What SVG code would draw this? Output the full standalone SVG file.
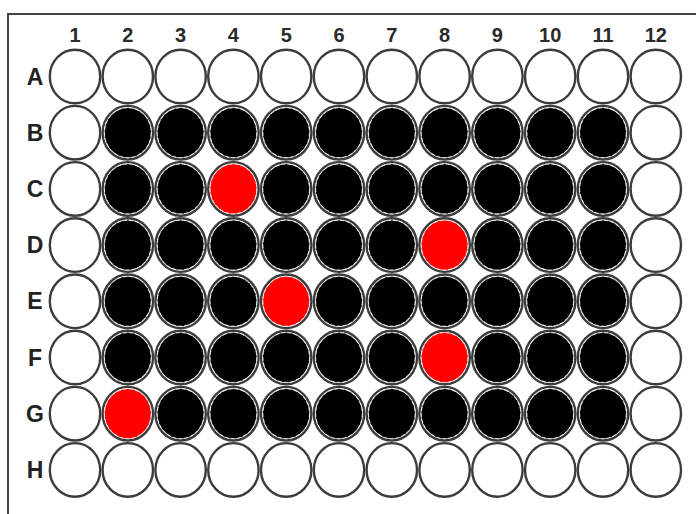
<svg xmlns="http://www.w3.org/2000/svg" xmlns:xlink="http://www.w3.org/1999/xlink" width="696" height="514" viewBox="0 0 696 514">
<style>
.frame{fill:none;stroke:#444;stroke-width:2}
.col{font-family:"Liberation Sans",Arial,sans-serif;font-size:20px;font-weight:bold;fill:#2a2a2a;text-anchor:middle}
.row{font-family:"Liberation Sans",Arial,sans-serif;font-size:23px;font-weight:bold;fill:#222;text-anchor:middle}
.ring{fill:#fff;stroke:#3c3c3c;stroke-width:2.4}
.blk{fill:#000;stroke:#fff;stroke-width:0.8;stroke-dasharray:4 2}
.red{fill:#ff0000;stroke:#fff;stroke-width:0.8;stroke-dasharray:4 2}
</style>
<defs>
<g id="e"><ellipse class="ring" cx="0" cy="0" rx="25.2" ry="26.8"/></g>
<g id="b"><ellipse class="ring" cx="0" cy="0" rx="25.2" ry="26.8"/><ellipse class="blk" cx="0" cy="0" rx="23.3" ry="24.9"/></g>
<g id="r"><ellipse class="ring" cx="0" cy="0" rx="25.2" ry="26.8"/><ellipse class="red" cx="0" cy="0" rx="23.3" ry="24.9"/></g>
</defs>
<rect width="696" height="514" fill="#fff"/>
<path class="frame" d="M8,514 V14 H696"/>
<g id="column-labels">
<text class="col" x="75" y="42">1</text>
<text class="col" x="127.8" y="42">2</text>
<text class="col" x="180.6" y="42">3</text>
<text class="col" x="233.4" y="42">4</text>
<text class="col" x="286.2" y="42">5</text>
<text class="col" x="339" y="42">6</text>
<text class="col" x="391.8" y="42">7</text>
<text class="col" x="444.6" y="42">8</text>
<text class="col" x="497.4" y="42">9</text>
<text class="col" x="550.2" y="42">10</text>
<text class="col" x="603" y="42">11</text>
<text class="col" x="655.8" y="42">12</text>
</g>
<g id="row-labels">
<text class="row" x="35" y="84.5">A</text>
<text class="row" x="35" y="140.7">B</text>
<text class="row" x="35" y="196.9">C</text>
<text class="row" x="35" y="253.1">D</text>
<text class="row" x="35" y="309.3">E</text>
<text class="row" x="35" y="365.5">F</text>
<text class="row" x="35" y="421.7">G</text>
<text class="row" x="35" y="477.9">H</text>
</g>
<g id="wells">
<g id="A1"><use href="#e" x="75" y="76.5"/></g>
<g id="A2"><use href="#e" x="127.8" y="76.5"/></g>
<g id="A3"><use href="#e" x="180.6" y="76.5"/></g>
<g id="A4"><use href="#e" x="233.4" y="76.5"/></g>
<g id="A5"><use href="#e" x="286.2" y="76.5"/></g>
<g id="A6"><use href="#e" x="339" y="76.5"/></g>
<g id="A7"><use href="#e" x="391.8" y="76.5"/></g>
<g id="A8"><use href="#e" x="444.6" y="76.5"/></g>
<g id="A9"><use href="#e" x="497.4" y="76.5"/></g>
<g id="A10"><use href="#e" x="550.2" y="76.5"/></g>
<g id="A11"><use href="#e" x="603" y="76.5"/></g>
<g id="A12"><use href="#e" x="655.8" y="76.5"/></g>

<g id="B1"><use href="#e" x="75" y="132.7"/></g>
<g id="B2"><use href="#b" x="127.8" y="132.7"/></g>
<g id="B3"><use href="#b" x="180.6" y="132.7"/></g>
<g id="B4"><use href="#b" x="233.4" y="132.7"/></g>
<g id="B5"><use href="#b" x="286.2" y="132.7"/></g>
<g id="B6"><use href="#b" x="339" y="132.7"/></g>
<g id="B7"><use href="#b" x="391.8" y="132.7"/></g>
<g id="B8"><use href="#b" x="444.6" y="132.7"/></g>
<g id="B9"><use href="#b" x="497.4" y="132.7"/></g>
<g id="B10"><use href="#b" x="550.2" y="132.7"/></g>
<g id="B11"><use href="#b" x="603" y="132.7"/></g>
<g id="B12"><use href="#e" x="655.8" y="132.7"/></g>

<g id="C1"><use href="#e" x="75" y="188.9"/></g>
<g id="C2"><use href="#b" x="127.8" y="188.9"/></g>
<g id="C3"><use href="#b" x="180.6" y="188.9"/></g>
<g id="C4"><use href="#r" x="233.4" y="188.9"/></g>
<g id="C5"><use href="#b" x="286.2" y="188.9"/></g>
<g id="C6"><use href="#b" x="339" y="188.9"/></g>
<g id="C7"><use href="#b" x="391.8" y="188.9"/></g>
<g id="C8"><use href="#b" x="444.6" y="188.9"/></g>
<g id="C9"><use href="#b" x="497.4" y="188.9"/></g>
<g id="C10"><use href="#b" x="550.2" y="188.9"/></g>
<g id="C11"><use href="#b" x="603" y="188.9"/></g>
<g id="C12"><use href="#e" x="655.8" y="188.9"/></g>

<g id="D1"><use href="#e" x="75" y="245.1"/></g>
<g id="D2"><use href="#b" x="127.8" y="245.1"/></g>
<g id="D3"><use href="#b" x="180.6" y="245.1"/></g>
<g id="D4"><use href="#b" x="233.4" y="245.1"/></g>
<g id="D5"><use href="#b" x="286.2" y="245.1"/></g>
<g id="D6"><use href="#b" x="339" y="245.1"/></g>
<g id="D7"><use href="#b" x="391.8" y="245.1"/></g>
<g id="D8"><use href="#r" x="444.6" y="245.1"/></g>
<g id="D9"><use href="#b" x="497.4" y="245.1"/></g>
<g id="D10"><use href="#b" x="550.2" y="245.1"/></g>
<g id="D11"><use href="#b" x="603" y="245.1"/></g>
<g id="D12"><use href="#e" x="655.8" y="245.1"/></g>

<g id="E1"><use href="#e" x="75" y="301.3"/></g>
<g id="E2"><use href="#b" x="127.8" y="301.3"/></g>
<g id="E3"><use href="#b" x="180.6" y="301.3"/></g>
<g id="E4"><use href="#b" x="233.4" y="301.3"/></g>
<g id="E5"><use href="#r" x="286.2" y="301.3"/></g>
<g id="E6"><use href="#b" x="339" y="301.3"/></g>
<g id="E7"><use href="#b" x="391.8" y="301.3"/></g>
<g id="E8"><use href="#b" x="444.6" y="301.3"/></g>
<g id="E9"><use href="#b" x="497.4" y="301.3"/></g>
<g id="E10"><use href="#b" x="550.2" y="301.3"/></g>
<g id="E11"><use href="#b" x="603" y="301.3"/></g>
<g id="E12"><use href="#e" x="655.8" y="301.3"/></g>

<g id="F1"><use href="#e" x="75" y="357.5"/></g>
<g id="F2"><use href="#b" x="127.8" y="357.5"/></g>
<g id="F3"><use href="#b" x="180.6" y="357.5"/></g>
<g id="F4"><use href="#b" x="233.4" y="357.5"/></g>
<g id="F5"><use href="#b" x="286.2" y="357.5"/></g>
<g id="F6"><use href="#b" x="339" y="357.5"/></g>
<g id="F7"><use href="#b" x="391.8" y="357.5"/></g>
<g id="F8"><use href="#r" x="444.6" y="357.5"/></g>
<g id="F9"><use href="#b" x="497.4" y="357.5"/></g>
<g id="F10"><use href="#b" x="550.2" y="357.5"/></g>
<g id="F11"><use href="#b" x="603" y="357.5"/></g>
<g id="F12"><use href="#e" x="655.8" y="357.5"/></g>

<g id="G1"><use href="#e" x="75" y="413.7"/></g>
<g id="G2"><use href="#r" x="127.8" y="413.7"/></g>
<g id="G3"><use href="#b" x="180.6" y="413.7"/></g>
<g id="G4"><use href="#b" x="233.4" y="413.7"/></g>
<g id="G5"><use href="#b" x="286.2" y="413.7"/></g>
<g id="G6"><use href="#b" x="339" y="413.7"/></g>
<g id="G7"><use href="#b" x="391.8" y="413.7"/></g>
<g id="G8"><use href="#b" x="444.6" y="413.7"/></g>
<g id="G9"><use href="#b" x="497.4" y="413.7"/></g>
<g id="G10"><use href="#b" x="550.2" y="413.7"/></g>
<g id="G11"><use href="#b" x="603" y="413.7"/></g>
<g id="G12"><use href="#e" x="655.8" y="413.7"/></g>

<g id="H1"><use href="#e" x="75" y="469.9"/></g>
<g id="H2"><use href="#e" x="127.8" y="469.9"/></g>
<g id="H3"><use href="#e" x="180.6" y="469.9"/></g>
<g id="H4"><use href="#e" x="233.4" y="469.9"/></g>
<g id="H5"><use href="#e" x="286.2" y="469.9"/></g>
<g id="H6"><use href="#e" x="339" y="469.9"/></g>
<g id="H7"><use href="#e" x="391.8" y="469.9"/></g>
<g id="H8"><use href="#e" x="444.6" y="469.9"/></g>
<g id="H9"><use href="#e" x="497.4" y="469.9"/></g>
<g id="H10"><use href="#e" x="550.2" y="469.9"/></g>
<g id="H11"><use href="#e" x="603" y="469.9"/></g>
<g id="H12"><use href="#e" x="655.8" y="469.9"/></g>
</g>
</svg>
